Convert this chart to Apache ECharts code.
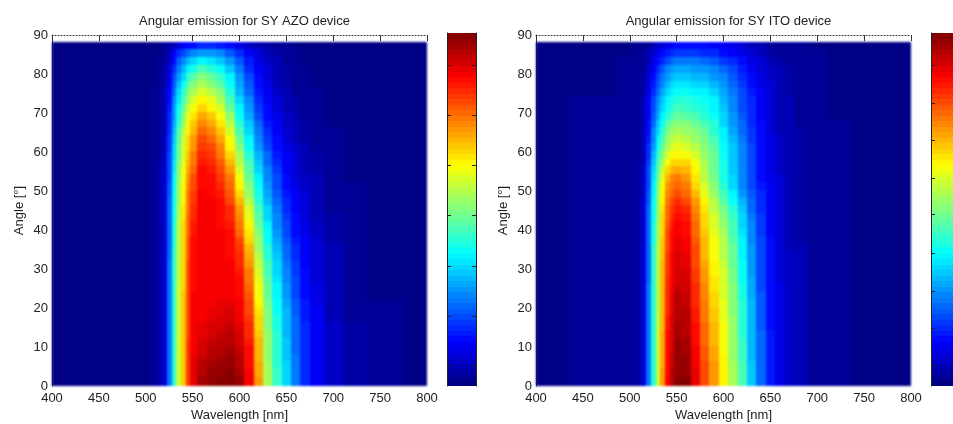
<!DOCTYPE html>
<html><head><meta charset="utf-8">
<style>html,body{margin:0;padding:0;background:#fff;overflow:hidden}#c{width:953px;height:424px}
canvas[data-zr-dom-id="zr_0"]{filter:blur(0.4px)}canvas[data-zr-dom-id="zr_1"]{filter:blur(0.8px)}</style>
<script src="https://cdn.jsdelivr.net/npm/echarts@6/dist/echarts.min.js"></script>
</head><body><div id="c"></div>
<script>
const titles = ['Angular emission for SY AZO device', 'Angular emission for SY ITO device'];
const wavelengths = [400,470,500,510,515,520,525,530,535,540,545,550,560,570,580,590,600,610,620,630,640,650,660,670,680,700,720,750,800];
const angles = [0,2,4,6,8,10,12,14,16,18,20,22,24,26,28,30,32,34,36,38,40,42,44,46,48,50,52,54,56,58,60,62,64,66,68,70,72,74,76,78,80,82,84,86];
const xTicks = [400,450,500,550,600,650,700,750,800];
const barTicksAzo = [3.8,12.7,21.8,31,40,49.1,58.2];
const barTicksIto = [3.8,10.5,17.2,24.1,31.2,37.7,44.6,51.3,58.2];
const azoRows = [
[0,0,1,2,4,9,24,42,57,68,82,90,96,98,99,100,97,89,72,54,43,33,24,17,12,7,4,2,0],
[0,0,1,2,4,9,24,42,57,68,82,90,95,97,98,99,96,88,71,54,43,33,24,17,12,7,4,2,0],
[0,0,1,2,4,9,24,42,57,68,82,90,94,96,97,98,95,87,71,54,42,33,24,17,12,7,4,2,0],
[0,0,1,2,4,9,24,42,57,68,82,90,93,95,96,97,94,87,70,53,42,32,24,17,12,7,4,2,0],
[0,0,1,2,4,9,24,42,57,68,82,89,92,94,95,96,93,86,70,53,42,32,23,17,12,7,4,2,0],
[0,0,1,2,4,9,24,42,57,68,82,89,91,93,94,95,92,85,69,53,41,32,23,16,12,7,4,2,0],
[0,0,1,2,4,9,24,42,57,68,81,88,90,92,93,94,91,84,68,52,41,31,23,16,11,7,4,2,0],
[0,0,1,2,4,9,24,42,57,68,81,88,90,91,92,93,90,83,67,51,40,31,22,16,11,7,4,2,0],
[0,0,1,2,4,9,24,42,57,68,81,88,89,90,91,92,89,82,66,50,40,30,22,15,11,6,3,2,0],
[0,0,1,2,4,9,24,42,57,68,81,88,89,90,90,91,89,81,65,50,39,30,21,15,11,6,3,2,0],
[0,0,1,2,4,9,24,42,57,68,81,88,89,89,90,90,88,80,64,49,38,29,21,15,10,6,3,2,0],
[0,0,1,2,4,9,24,42,57,68,81,88,88,89,89,89,87,79,62,48,37,28,20,14,10,6,3,1,0],
[0,0,1,2,4,9,24,42,57,67,80,87,88,88,89,89,87,78,61,47,36,27,20,14,10,6,3,1,0],
[0,0,1,2,4,9,24,41,56,67,80,87,88,88,88,88,86,76,60,46,35,26,19,13,9,5,3,1,0],
[0,0,1,2,4,9,24,41,56,67,80,87,88,88,88,88,85,75,58,45,34,25,18,13,9,5,3,1,0],
[0,0,1,2,4,9,24,41,56,67,80,87,88,88,88,88,84,73,57,44,33,24,18,12,9,5,3,1,0],
[0,0,1,2,4,9,23,41,56,67,79,86,88,88,88,87,83,71,55,42,32,23,17,12,8,5,3,1,0],
[0,0,1,2,4,9,23,41,56,67,79,86,88,88,88,87,82,69,53,41,30,22,16,11,8,5,2,1,0],
[0,0,1,2,4,9,23,40,55,66,79,86,88,88,88,86,80,67,52,39,29,21,15,11,8,4,2,1,0],
[0,0,1,2,4,9,23,40,55,66,78,85,88,88,88,86,78,65,50,38,28,20,14,10,7,4,2,1,0],
[0,0,1,2,4,9,23,40,55,66,78,85,88,88,87,85,76,63,48,36,26,19,14,10,7,4,2,1,0],
[0,0,1,2,4,9,22,39,54,65,77,84,88,88,87,84,74,60,46,34,25,18,13,9,6,4,2,1,0],
[0,0,1,2,4,9,22,39,54,65,76,83,88,88,87,83,72,58,44,33,24,17,12,9,6,3,2,1,0],
[0,0,1,2,4,8,22,38,53,64,76,82,88,88,86,81,69,56,42,31,22,16,11,8,6,3,2,1,0],
[0,0,1,2,4,8,21,38,53,64,75,82,88,87,85,79,67,53,40,29,21,15,11,8,5,3,2,1,0],
[0,0,1,2,4,8,21,37,52,63,74,81,87,87,84,77,64,51,38,27,20,14,10,7,5,3,2,1,0],
[0,0,1,2,4,8,20,36,51,62,73,80,87,86,82,75,61,48,36,26,19,13,9,7,5,3,1,0,0],
[0,0,1,2,4,8,20,35,50,61,71,78,86,85,81,72,59,46,34,25,18,12,9,6,4,3,1,0,0],
[0,0,1,2,3,8,19,35,49,60,70,76,85,83,79,70,56,44,32,23,16,12,8,6,4,2,1,0,0],
[0,0,1,2,3,7,19,34,48,59,68,75,84,82,76,67,54,42,30,22,15,11,8,5,4,2,1,0,0],
[0,0,1,2,3,7,18,33,47,58,67,73,82,80,74,64,51,39,28,20,14,10,7,5,3,2,1,0,0],
[0,0,1,2,3,7,18,32,46,57,66,72,80,77,71,61,48,37,26,18,13,9,6,4,3,2,1,0,0],
[0,0,1,2,3,6,17,31,44,55,64,70,77,74,68,58,45,34,24,17,12,8,6,4,3,2,1,0,0],
[0,0,1,2,3,6,16,29,42,52,62,68,74,71,65,55,42,32,22,15,11,7,5,4,3,1,1,0,0],
[0,0,1,2,3,6,16,28,40,50,60,65,71,68,62,52,39,29,20,14,10,7,5,3,2,1,1,0,0],
[0,0,1,2,3,6,15,27,38,48,57,62,67,64,58,48,36,27,18,13,9,6,4,3,2,1,1,0,0],
[0,0,1,2,3,5,14,25,35,45,53,58,63,60,54,45,33,25,17,12,8,5,4,3,2,1,0,0,0],
[0,0,1,2,3,5,13,23,33,42,50,54,58,55,50,42,31,22,15,11,7,5,3,2,2,1,0,0,0],
[0,0,1,1,2,4,12,21,30,38,46,50,54,51,46,38,29,21,14,10,6,4,3,2,1,1,0,0,0],
[0,0,1,1,2,4,10,19,27,34,41,46,50,47,43,36,27,19,13,9,6,4,3,2,1,1,0,0,0],
[0,0,0,1,2,4,9,17,24,30,36,40,44,42,38,32,24,17,12,8,5,4,3,2,1,0,0,0,0],
[0,0,0,1,2,3,7,14,21,26,30,33,36,35,32,27,21,15,10,7,5,3,2,1,1,0,0,0,0],
[0,0,0,1,1,3,6,11,16,20,23,25,27,27,25,21,17,12,8,6,4,3,2,1,1,0,0,0,0],
[0,0,0,1,1,2,4,6,9,11,13,14,16,16,15,13,10,7,5,4,3,2,1,1,0,0,0,0,0]
];
const itoRows = [
[1,2,2,4,8,24,42,57,72,88,94,99,99,90,81,73,64,54,44,32,23,15,10,7,5,3,2,1,1],
[1,2,2,4,8,24,42,57,72,87,94,98,98,90,81,73,64,54,44,32,23,15,10,7,5,3,2,1,1],
[1,2,2,4,8,24,42,57,71,87,93,98,97,89,80,72,63,54,44,32,23,15,10,7,5,3,2,1,1],
[1,2,2,4,8,24,42,57,71,87,93,98,97,89,79,71,63,53,43,31,22,15,10,7,5,3,2,1,1],
[1,2,2,4,8,24,42,57,71,86,92,97,96,88,79,71,62,53,43,31,22,15,10,7,5,3,2,1,1],
[1,2,2,4,8,24,42,57,71,86,92,97,96,87,78,70,62,53,43,31,22,15,10,7,5,3,2,1,1],
[1,2,2,4,8,24,42,57,71,86,91,96,95,87,77,69,61,52,42,31,22,15,10,7,5,3,2,1,1],
[1,2,2,4,8,24,42,56,70,85,91,96,95,86,77,69,61,52,42,30,21,14,10,7,5,3,2,1,1],
[1,2,2,4,8,24,41,56,70,85,91,95,94,85,76,68,60,52,42,30,21,14,10,7,5,3,2,1,1],
[1,2,2,4,8,24,41,56,70,84,90,95,94,85,76,68,60,51,41,30,21,14,10,7,5,3,2,1,1],
[1,2,2,4,8,24,41,56,70,84,90,94,93,84,75,67,60,51,41,30,21,14,10,7,5,3,2,1,1],
[1,2,2,4,8,24,41,56,70,84,90,94,93,84,74,66,59,50,40,29,21,14,10,7,5,3,2,1,1],
[1,2,2,4,8,24,41,56,69,83,89,93,92,83,74,65,59,50,40,29,20,14,10,7,5,3,2,1,1],
[1,2,2,4,8,23,41,55,69,83,89,92,91,82,73,65,58,49,39,29,20,14,9,7,5,3,2,1,1],
[1,2,2,4,8,23,41,55,69,82,88,92,91,82,72,64,58,49,39,28,20,14,9,7,5,3,2,1,1],
[1,2,2,4,8,23,41,55,69,82,88,91,90,81,71,63,57,48,38,28,20,14,9,7,5,3,2,1,1],
[1,2,2,4,8,23,41,55,68,82,88,91,90,80,70,62,56,47,37,27,19,13,9,7,5,3,2,1,1],
[1,2,2,4,8,23,41,55,68,81,87,90,89,80,70,61,55,47,36,27,19,13,9,6,5,3,2,1,1],
[1,2,2,4,8,23,40,54,68,81,87,90,88,79,69,61,55,46,36,26,19,13,9,6,4,3,2,1,1],
[1,2,2,4,8,23,40,54,67,80,86,89,87,78,68,60,54,45,35,26,18,12,9,6,4,3,2,1,1],
[1,2,2,4,8,23,40,54,67,79,85,88,86,77,67,59,53,44,34,25,18,12,9,6,4,3,2,1,1],
[1,2,2,4,8,22,39,53,66,78,84,87,85,76,66,58,51,43,33,24,18,12,9,6,4,3,2,1,1],
[1,2,2,4,8,22,39,53,65,77,82,85,83,74,65,56,49,41,32,23,17,12,8,6,4,3,2,1,1],
[1,2,2,4,8,21,38,52,64,75,80,83,81,72,63,55,46,38,30,22,16,11,8,6,4,3,2,1,1],
[1,2,2,4,7,21,37,51,63,74,78,81,78,70,60,52,44,36,28,21,16,11,8,6,4,3,2,1,1],
[1,2,2,4,7,20,36,50,62,72,76,78,76,67,58,50,41,33,26,19,15,11,8,6,4,3,2,1,1],
[1,2,2,4,7,20,35,48,60,70,74,75,73,65,56,49,40,33,26,19,14,10,8,6,4,3,2,1,1],
[1,2,2,4,7,19,33,46,57,66,70,71,70,63,55,48,40,32,25,19,14,10,7,5,4,3,2,1,1],
[1,2,2,4,6,18,32,44,54,62,66,67,66,61,54,47,40,32,25,19,14,10,7,5,4,3,2,1,1],
[1,2,2,3,6,17,30,41,50,58,62,64,62,58,52,47,39,32,25,19,14,10,7,5,4,3,2,1,1],
[1,2,2,3,6,16,28,38,47,54,58,60,58,55,51,46,39,32,25,19,14,10,7,5,4,3,2,1,1],
[1,2,2,3,6,15,26,36,45,52,55,57,56,53,49,44,37,30,24,18,13,10,7,5,4,3,2,1,1],
[1,2,2,3,6,14,25,34,42,49,52,54,53,51,47,42,36,29,23,18,13,9,6,5,4,2,2,1,1],
[1,2,2,3,5,13,23,32,39,46,49,50,50,48,45,41,34,28,22,17,13,9,6,5,3,2,2,1,1],
[1,2,2,3,5,12,21,29,36,42,45,47,46,45,42,38,33,27,21,17,12,9,6,5,3,2,1,1,1],
[1,2,2,3,5,11,19,27,33,39,42,44,43,42,40,37,32,26,20,16,12,9,6,5,3,2,1,1,1],
[1,2,2,3,5,11,19,26,32,37,40,41,41,40,38,36,31,26,20,16,12,9,6,5,3,2,1,1,1],
[1,1,2,3,4,10,17,23,29,34,37,38,38,37,36,33,29,24,19,15,11,8,6,4,3,2,1,1,1],
[1,1,2,3,4,9,15,21,26,31,33,35,35,34,33,31,27,23,18,14,10,8,5,4,3,2,1,1,1],
[1,1,2,2,4,8,14,19,24,28,30,32,32,31,30,28,25,21,17,13,10,7,5,4,3,2,1,1,1],
[1,1,2,2,3,7,12,16,21,25,27,29,29,28,27,25,22,19,15,12,9,7,5,4,3,2,1,1,1],
[1,1,2,2,3,6,10,13,17,20,22,24,24,24,23,21,18,16,13,10,8,6,4,3,3,2,1,1,1],
[1,1,1,2,3,5,7,10,13,15,17,18,18,18,17,16,14,12,10,8,6,4,3,3,2,2,1,1,1],
[1,1,1,2,2,3,5,7,9,10,12,13,14,14,13,12,11,10,8,6,5,3,2,2,2,1,1,1,1]
];

function jet(t){
  const i = Math.min(63, Math.floor(t*64)), v = (i+0.5)/64;
  const ch = c => Math.round(255*Math.max(0,Math.min(1,1.5-Math.abs(4*v-c))));
  return 'rgb('+ch(3)+','+ch(2)+','+ch(1)+')';
}
const rowOffset = 0.3;
function cells(rows){
  const out=[];
  rows.forEach((row,r)=>{
    const y0=r===0?0:angles[r]+rowOffset, y1=angles[r]+2+rowOffset;
    row.forEach((v,c)=>{
      const x0=c===0?wavelengths[0]:(wavelengths[c-1]+wavelengths[c])/2;
      const x1=c===row.length-1?wavelengths[c]:(wavelengths[c]+wavelengths[c+1])/2;
      out.push([x0,x1,y0,y1,v/100]);
    });
  });
  return out;
}
const barCells=[]; for(let i=0;i<64;i++) barCells.push([0,1,i,i+1,(i+0.5)/64]);
function renderCell(params,api){
  const a=api.coord([api.value(0),api.value(3)]), b=api.coord([api.value(1),api.value(2)]);
  const x=Math.round(a[0]), y=Math.round(a[1]);
  return {type:'rect',shape:{x,y,width:Math.round(b[0])-x,height:Math.round(b[1])-y},style:{fill:jet(Math.min(0.9999,api.value(4)))},silent:true};
}
const txt={fontFamily:'Liberation Sans',fontSize:13,color:'#222'};
const plot=[{left:52,w:375},{left:536,w:375}];
const bars=[{left:447,ticks:barTicksAzo},{left:931,ticks:barTicksIto}];
const plotTop=35, plotH=351;
const grid=[], xAxis=[], yAxis=[], series=[], chartTitles=[];
[azoRows,itoRows].forEach((rows,k)=>{
  const p=plot[k];
  grid.push({left:p.left,top:plotTop,width:p.w,height:plotH,outerBoundsMode:'none'});
  chartTitles.push({text:titles[k],left:p.left+p.w/2,top:10,textAlign:'center',textStyle:{...txt,fontWeight:'normal'}});
  const bx=xAxis.length, by=yAxis.length;
  xAxis.push({gridIndex:k,type:'value',min:400,max:800,interval:50,position:'bottom',name:'Wavelength [nm]',nameLocation:'middle',nameGap:23,nameMoveOverlap:false,nameTextStyle:txt,
    axisLabel:{...txt,margin:6,customValues:xTicks},splitLine:{show:false},axisTick:{show:false},axisLine:{show:false}});
  xAxis.push({gridIndex:k,type:'value',min:400,max:800,interval:50,position:'top',axisLabel:{show:false},splitLine:{show:false},
    axisTick:{show:true,inside:true,length:6,lineStyle:{color:'#333',width:1}},axisLine:{show:true,lineStyle:{color:'#333',type:[1,2],width:1}}});
  yAxis.push({gridIndex:k,type:'value',min:0,max:90,interval:10,position:'left',name:'Angle [°]',nameLocation:'middle',nameGap:26,nameRotate:90,nameMoveOverlap:false,nameTextStyle:txt,
    axisLabel:{...txt,margin:4},splitLine:{show:false},axisTick:{show:false},axisLine:{show:true,lineStyle:{color:'#333',width:1}}});
  series.push({type:'custom',xAxisIndex:bx,yAxisIndex:by,data:cells(rows),encode:{x:[0,1],y:[2,3]},renderItem:renderCell,progressive:0,animation:false,silent:true,clip:true,zlevel:1});
});
bars.forEach((b,k)=>{
  const g=grid.length;
  grid.push({left:b.left,top:33,width:29,height:353,outerBoundsMode:'none'});
  const bx=xAxis.length, by=yAxis.length;
  xAxis.push({gridIndex:g,type:'value',min:0,max:1,show:false});
  const side=(pos)=>({gridIndex:g,type:'value',min:0,max:64,position:pos,axisLabel:{show:false},splitLine:{show:false},z:5,
    axisTick:{show:true,inside:true,length:4,customValues:b.ticks,lineStyle:{color:'#222',width:1}},
    axisLine:{show:true,lineStyle:{color:'#222',width:1}}});
  yAxis.push(side('left'),side('right'));
  series.push({type:'custom',xAxisIndex:bx,yAxisIndex:by,data:barCells,encode:{x:[0,1],y:[2,3]},renderItem:renderCell,progressive:0,animation:false,silent:true,z:1});
});
const chart=echarts.init(document.getElementById('c'),null,{renderer:'canvas'});
chart.setOption({animation:false,backgroundColor:'#fff',title:chartTitles,grid,xAxis,yAxis,series,tooltip:{show:false}});
</script></body></html>
